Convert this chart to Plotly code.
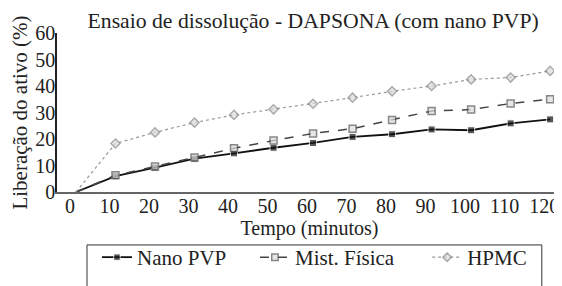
import plotly.graph_objects as go

tempo = [0, 10, 20, 30, 40, 50, 60, 70, 80, 90, 100, 110, 120]
nano_pvp = [0, 6.0, 9.2, 12.6, 14.6, 16.7, 18.5, 20.8, 21.8, 23.6, 23.3, 25.9, 27.4]
mist_fisica = [0, 6.3, 9.6, 13.0, 16.5, 19.4, 22.1, 23.9, 27.2, 30.6, 31.1, 33.4, 35.0]
hpmc = [0, 18.3, 22.5, 26.2, 29.1, 31.2, 33.3, 35.6, 38.0, 40.0, 42.5, 43.2, 45.7]

x_ticks = list(range(0, 121, 10))
y_ticks = list(range(0, 61, 10))

FONT = "Times New Roman, Liberation Serif, serif"
msize = [0] + [7] * (len(tempo) - 1)

fig = go.Figure()
fig.add_trace(go.Scatter(
    x=tempo, y=nano_pvp, name="Nano PVP", mode="lines+markers", legend="legend",
    line=dict(color="#111111", width=1.8),
    marker=dict(symbol="square", size=msize, color="#111111"),
))
fig.add_trace(go.Scatter(
    x=tempo, y=mist_fisica, name="Mist. Física", mode="lines+markers", legend="legend2",
    line=dict(color="#444444", width=1.5, dash="dash"),
    marker=dict(symbol="square", size=msize, color="#dddddd", line=dict(color="#555555", width=1.5)),
))
fig.add_trace(go.Scatter(
    x=tempo, y=hpmc, name="HPMC", mode="lines+markers", legend="legend3",
    line=dict(color="#999999", width=1.2, dash="dot"),
    marker=dict(symbol="diamond", size=msize, color="#dddddd", line=dict(color="#888888", width=1.5)),
))

leg_common = dict(orientation="h", xanchor="left", y=-0.283, yanchor="top",
                  bgcolor="rgba(0,0,0,0)", borderwidth=0, font=dict(family=FONT, size=21))

# the page shows the figure 8 px in from the top-left corner, so margins compensate
fig.update_layout(
    width=562, height=286,
    margin=dict(l=49, r=8, t=25, b=102),
    paper_bgcolor="white", plot_bgcolor="white",
    font=dict(family=FONT, size=20, color="#222222"),
    title=dict(text="Ensaio de dissolução - DAPSONA (com nano PVP)",
               x=0.543, xanchor="center", y=0.958, yanchor="middle",
               font=dict(family=FONT, size=21.7, color="#222222")),
    xaxis=dict(range=[-4.8, 123], tickvals=x_ticks, ticktext=[str(v) for v in x_ticks],
               automargin=False,
               showgrid=False, zeroline=False, showline=True, linecolor="#666666", linewidth=2,
               ticks="", ticklabeloverflow="allow", ticklabelshift=-6, ticklabelstandoff=-5,
               title=dict(text="Tempo (minutos)", standoff=0,
                          font=dict(family=FONT, size=20)),
               tickfont=dict(family=FONT, size=20)),
    yaxis=dict(range=[0, 60], tickvals=y_ticks, showgrid=False, zeroline=False,
               automargin=False,
               showline=True, linecolor="#222222", linewidth=1.5, ticks="",
               ticklabelstandoff=-4,
               title=dict(text="Liberação do ativo (%)", standoff=14,
                          font=dict(family=FONT, size=21)),
               tickfont=dict(family=FONT, size=20)),
    legend=dict(x=0.0792, **leg_common),
    legend2=dict(x=0.392, **leg_common),
    legend3=dict(x=0.733, **leg_common),
    shapes=[dict(type="rect", xref="paper", yref="paper",
                 x0=0.0594, x1=0.960, y0=-0.333, y1=-0.62,
                 line=dict(color="#333333", width=1), fillcolor="rgba(0,0,0,0)")],
    showlegend=True,
)

fig.write_html("out.html")
